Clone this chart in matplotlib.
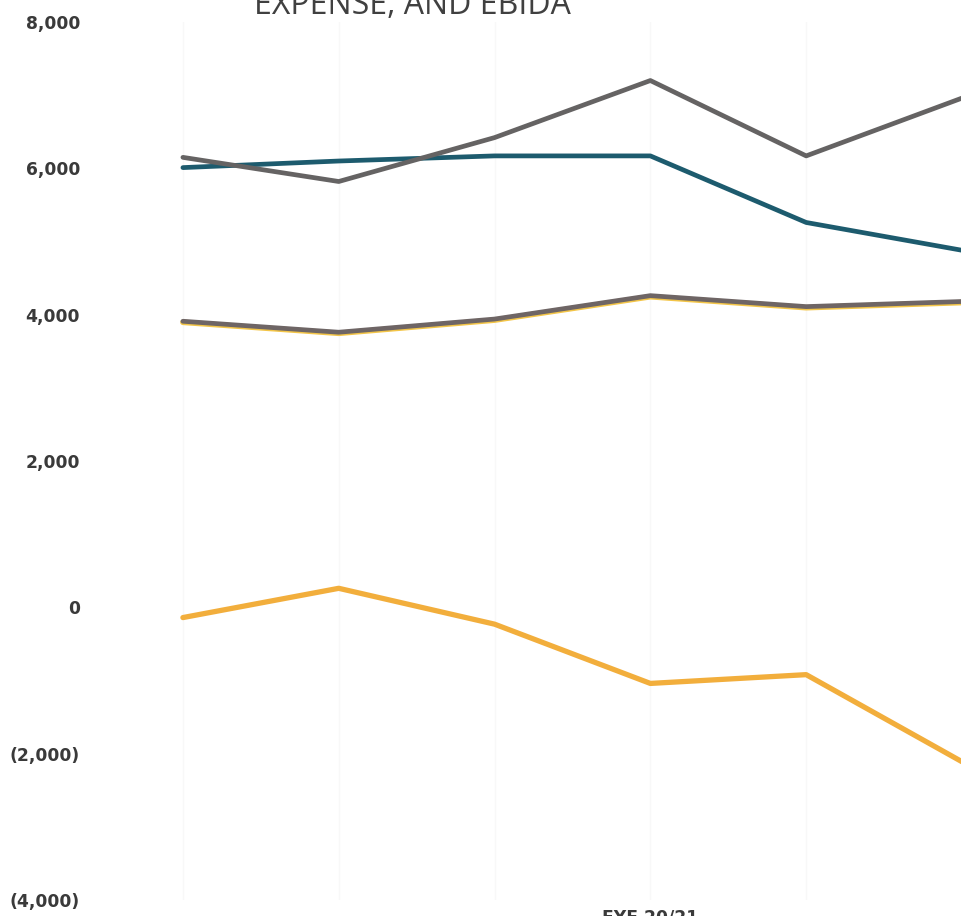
import matplotlib
matplotlib.use("Agg")
import matplotlib.pyplot as plt
from matplotlib.ticker import FuncFormatter

categories = ["FYE 17/18", "FYE 18/19", "FYE 19/20", "FYE 20/21", "FYE 21/22", "FYE 22/23"]
shown_labels = ["", "", "", "FYE 20/21", "", ""]
revenue = [6150, 5820, 6420, 7200, 6170, 6960]
expense = [6010, 6100, 6170, 6170, 5260, 4880]
series3 = [3895, 3745, 3925, 4245, 4095, 4165]
series4 = [3910, 3760, 3940, 4260, 4110, 4180]
ebida = [-140, 260, -230, -1040, -920, -2110]

fig = plt.figure(figsize=(9.62, 9.16), dpi=100)
ax = fig.add_axes([105/962, 16/916, (962-105)/962, (900-22)/916])
x = list(range(len(categories)))

ax.plot(x, series3, color="#f3c548", lw=4.0, solid_capstyle="round", zorder=2)
ax.plot(x, series4, color="#6e6565", lw=3.4, solid_capstyle="round", zorder=3)
ax.plot(x, ebida, color="#f2ae3c", lw=3.8, solid_capstyle="round", zorder=3)
ax.plot(x, expense, color="#1d5b6e", lw=3.4, solid_capstyle="round", zorder=4)
ax.plot(x, revenue, color="#656363", lw=3.4, solid_capstyle="round", zorder=5)

ax.set_xlim(-0.5, 5.0)
ax.set_ylim(-4000, 8000)
ax.set_yticks(range(-4000, 8001, 2000))

def fmt(v, pos):
    v = int(round(v))
    if v < 0:
        return "({:,})".format(-v)
    return "{:,}".format(v)

ax.yaxis.set_major_formatter(FuncFormatter(fmt))
ax.set_xticks(x)
ax.set_xticklabels(shown_labels)
ax.tick_params(axis="y", length=0, pad=18, labelsize=12.3, labelcolor="#3a3a3a")
ax.tick_params(axis="x", length=0, pad=6, labelsize=12.3, labelcolor="#3a3a3a")
for lab in ax.get_yticklabels() + ax.get_xticklabels():
    lab.set_fontweight("bold")
    lab.set_fontfamily("DejaVu Sans")

ax.grid(axis="x", color="#f8f8f8", lw=1.0)
ax.grid(axis="y", visible=False)
for s in ax.spines.values():
    s.set_visible(False)

fig.text(412/962, 1 - 14/916, "EXPENSE, AND EBIDA", ha="center", va="baseline",
         fontsize=23, color="#404040", family="Open Sans")

fig.savefig("out.png", dpi=100)
